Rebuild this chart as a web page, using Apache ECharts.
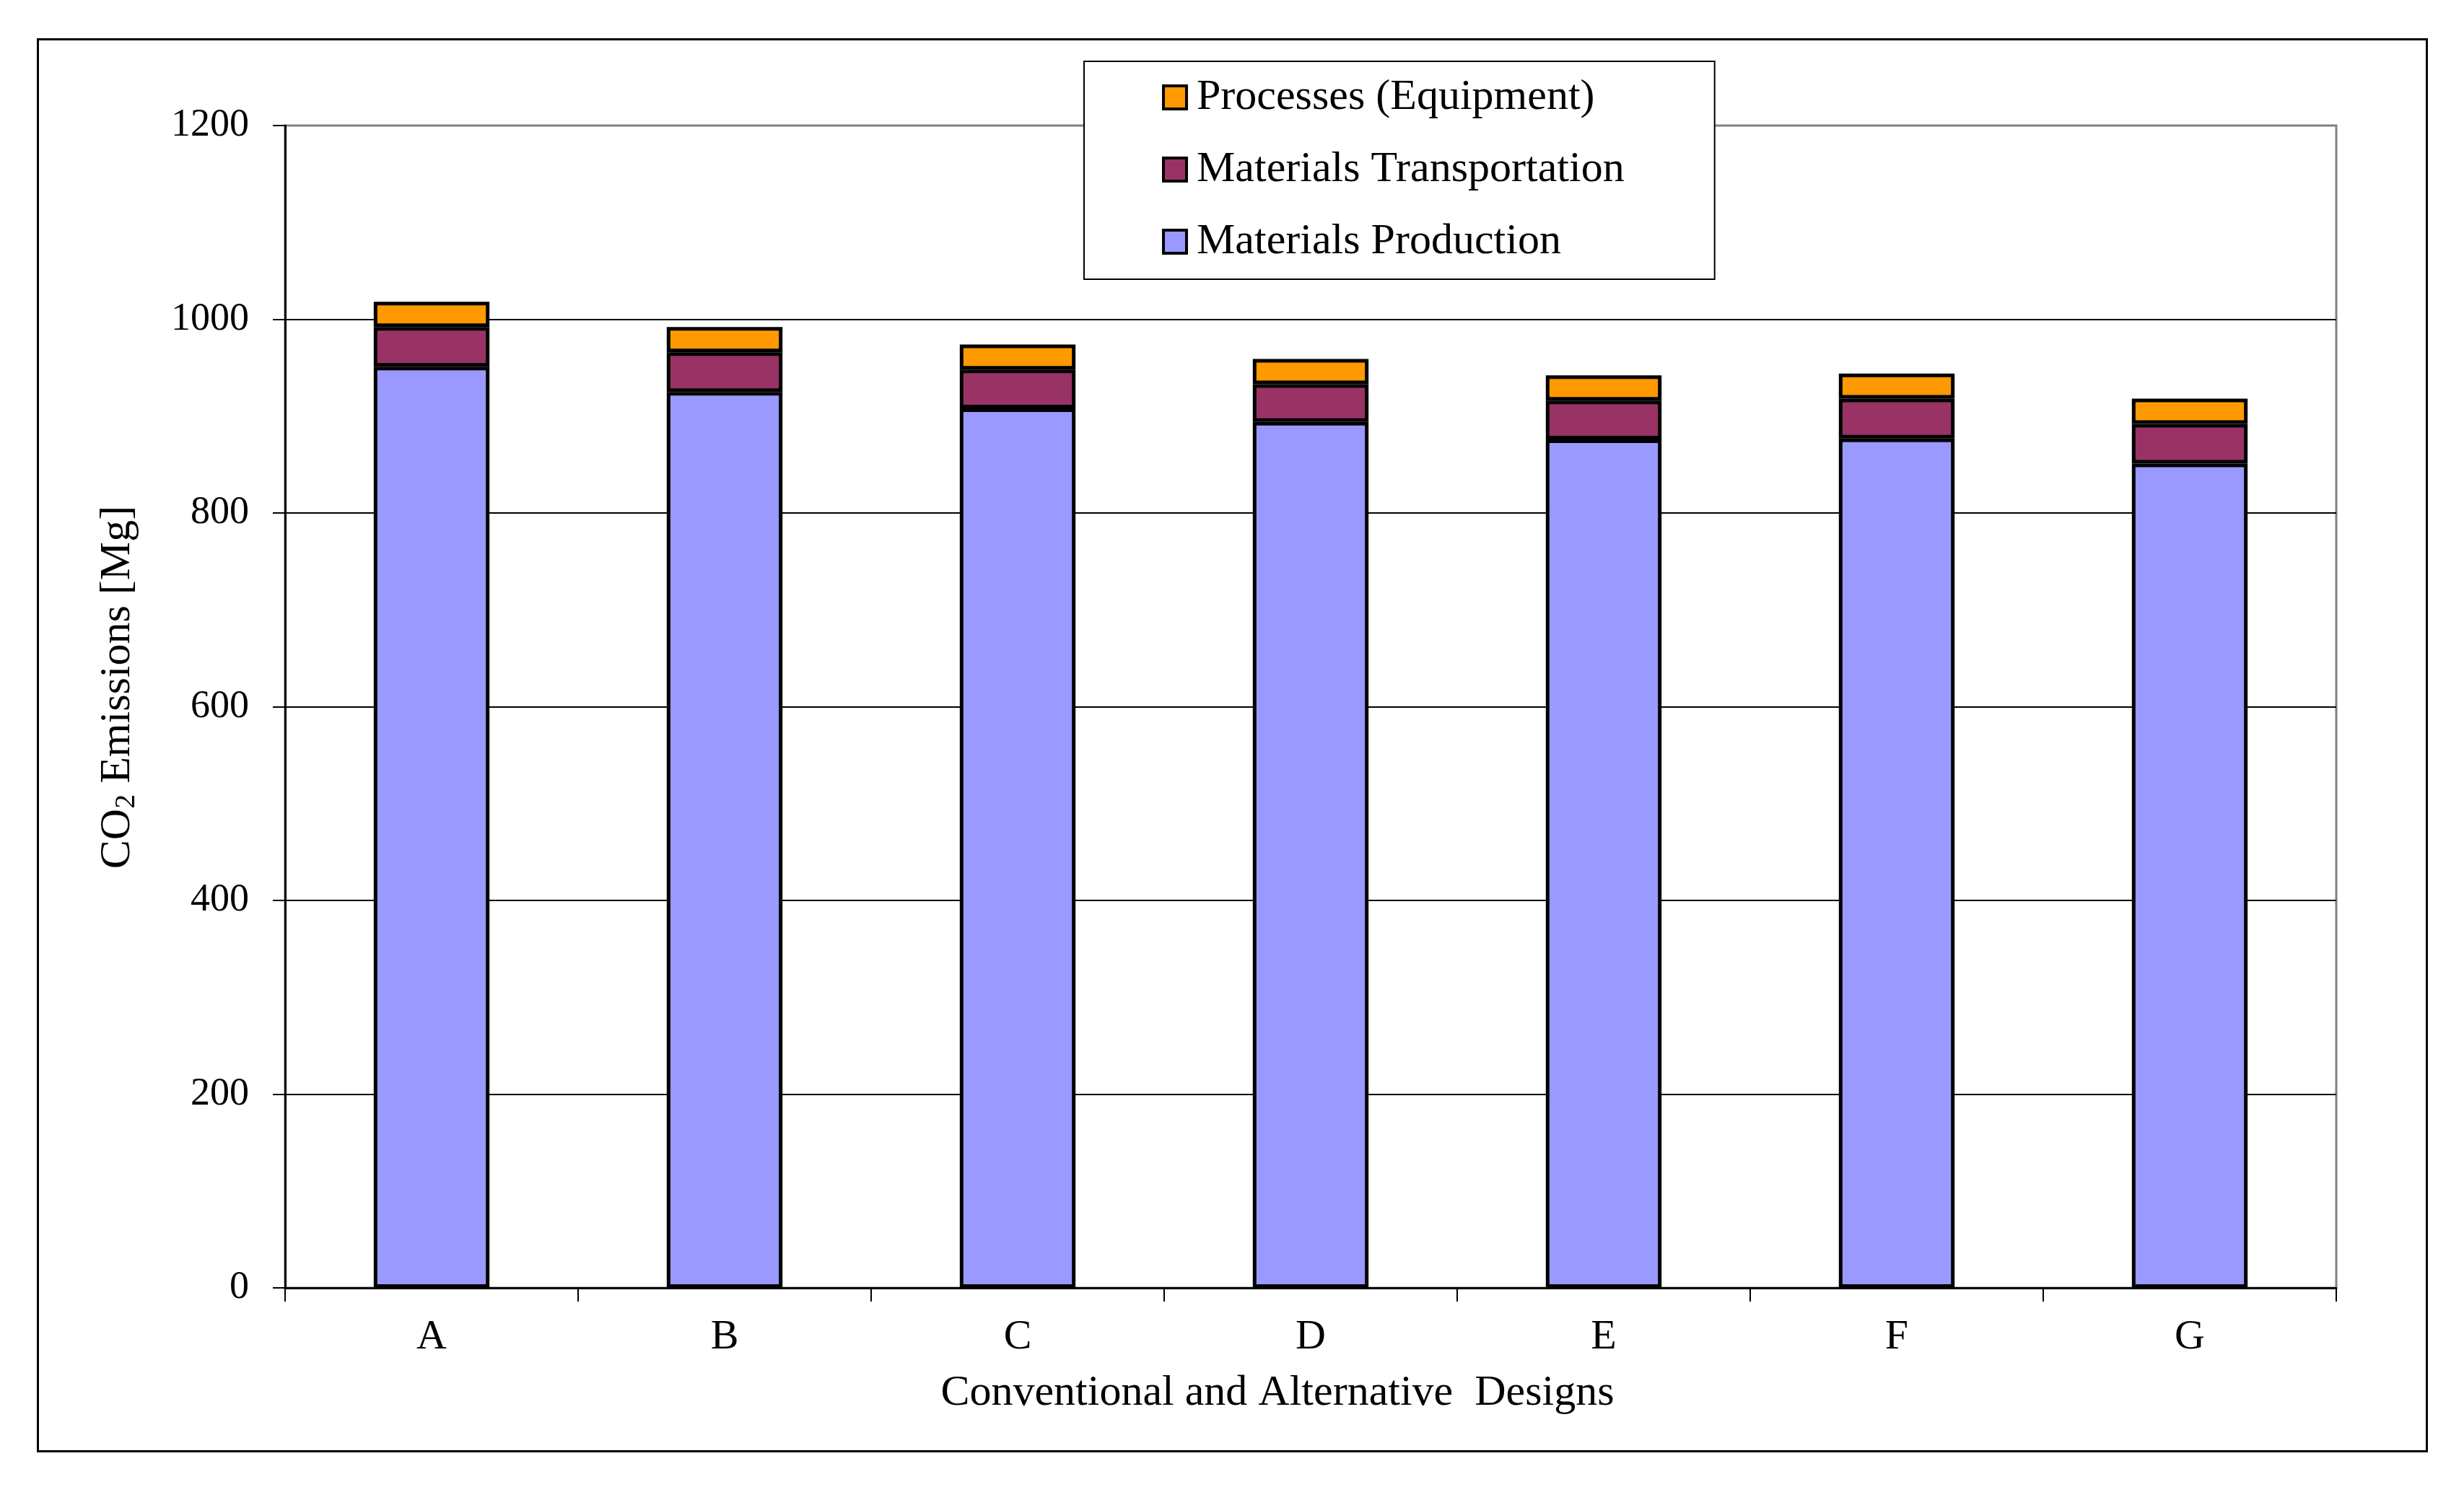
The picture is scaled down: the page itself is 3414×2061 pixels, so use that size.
<!DOCTYPE html>
<html>
<head>
<meta charset="utf-8">
<script src="https://cdn.jsdelivr.net/npm/echarts@6/dist/echarts.min.js"></script>
<style>
  html, body { margin: 0; padding: 0; background: #fff; }
  #chart { width: 3414px; height: 2061px; }
</style>
</head>
<body>
<div id="chart"></div>
<script>
// designs and emission components (Mg CO2)
var categories = ['A', 'B', 'C', 'D', 'E', 'F', 'G'];
var production = [951, 925, 908, 894, 876, 877, 851];
var transportation = [41, 41, 40, 39, 40, 41, 41];
var processes = [26, 26, 26, 26, 26, 26, 26];
var yTicks = [0, 200, 400, 600, 800, 1000, 1200];

var FONT = '"Liberation Serif", "DejaVu Serif", serif';

var chart = echarts.init(document.getElementById('chart'));

function seg(name, data, color) {
    return {
        name: name,
        type: 'bar',
        stack: 'total',
        barWidth: '39.5%',
        data: data,
        itemStyle: { color: color, borderColor: '#000', borderWidth: 5 }
    };
}

var option = {
    backgroundColor: '#fff',
    animation: false,
    textStyle: { fontFamily: FONT, color: '#000' },
    grid: {
        left: 395, right: 177, top: 174, bottom: 276,
        show: true, borderColor: '#808080', borderWidth: 3, backgroundColor: 'transparent'
    },
    legend: {
        data: ['Processes (Equipment)', 'Materials Transportation', 'Materials Production'],
        orient: 'vertical',
        left: 1502, top: 85,
        backgroundColor: '#fff',
        borderColor: '#000', borderWidth: 2,
        padding: [20, 125, 22, 108],
        itemWidth: 32, itemHeight: 32, itemGap: 40,
        icon: 'rect',
        itemStyle: { borderColor: '#000', borderWidth: 4 },
        textStyle: { fontFamily: FONT, fontSize: 60, lineHeight: 60, color: '#000', padding: [0, 0, 0, 9] }
    },
    xAxis: {
        type: 'category',
        data: categories,
        name: 'Conventional and Alternative  Designs',
        nameLocation: 'middle',
        nameGap: 116,
        nameTextStyle: { fontFamily: FONT, fontSize: 60, color: '#000', padding: [0, 92, 0, 0] },
        axisLine: { lineStyle: { color: '#000', width: 3 } },
        axisTick: { show: true, length: 19, lineStyle: { color: '#000', width: 2 } },
        axisLabel: { fontFamily: FONT, fontSize: 58, color: '#000', margin: 40 }
    },
    yAxis: {
        type: 'value',
        min: yTicks[0], max: yTicks[yTicks.length - 1], interval: 200,
        name: '{a|CO}{s|2}{a| Emissions [Mg]}',
        nameLocation: 'middle',
        nameGap: 200,
        nameRotate: 90,
        nameTextStyle: {
            padding: [0, 0, 0, 54],
            rich: {
                a: { fontFamily: FONT, fontSize: 60, color: '#000', lineHeight: 64 },
                s: { fontFamily: FONT, fontSize: 40, color: '#000', padding: [26, 0, 0, 0], lineHeight: 40, verticalAlign: 'bottom' }
            }
        },
        axisLine: { show: true, lineStyle: { color: '#000', width: 3 } },
        axisTick: { show: true, length: 17, lineStyle: { color: '#000', width: 2 } },
        axisLabel: {
            fontFamily: FONT, fontSize: 54, color: '#000', margin: 50,
            formatter: function (v) { return String(v); }
        },
        splitLine: {
            lineStyle: { color: ['#000', '#000', '#000', '#000', '#000', '#000', '#808080'], width: 2 }
        }
    },
    graphic: [{
        type: 'rect',
        left: 50, top: 52,
        shape: { width: 3310, height: 1957 },
        style: { fill: 'none', stroke: '#000', lineWidth: 3 },
        silent: true
    }],
    series: [
        seg('Materials Production', production, '#9999FF'),
        seg('Materials Transportation', transportation, '#993366'),
        seg('Processes (Equipment)', processes, '#FF9900')
    ]
};

chart.setOption(option);
</script>
</body>
</html>
